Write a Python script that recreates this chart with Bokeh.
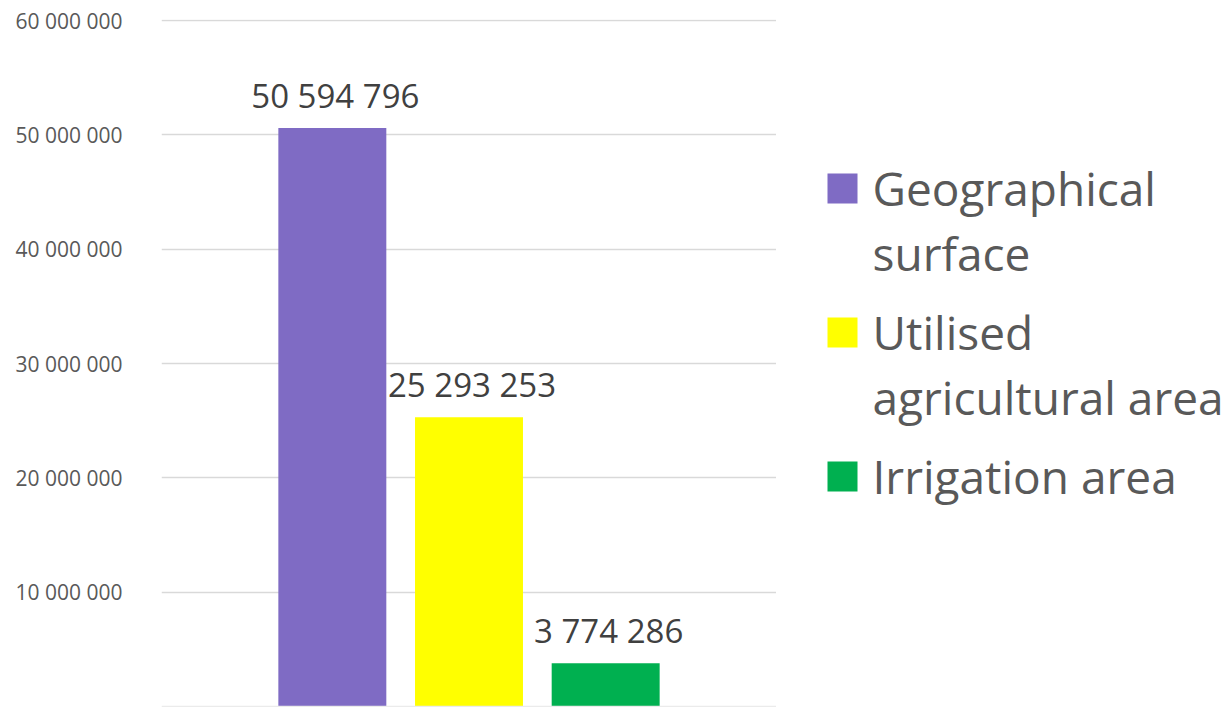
from bokeh.plotting import figure
from bokeh.layouts import row
from bokeh.models import (FactorRange, Range1d, FixedTicker, ColumnDataSource, LabelSet, Span)
from bokeh.core.properties import value
from bokeh.embed import file_html
from bokeh.resources import INLINE

categories = ["Geographical surface", "Utilised agricultural area", "Irrigation area"]
legend_labels = ["Geographical\nsurface", "Utilised\nagricultural area", "Irrigation area"]
values = [50594796, 25293253, 3774286]
colors = ["#7F6BC4", "#FFFF00", "#00B050"]
y_ticks = [10000000, 20000000, 30000000, 40000000, 50000000, 60000000]
y_tick_labels = ["10 000 000", "20 000 000", "30 000 000", "40 000 000", "50 000 000", "60 000 000"]

value_labels = ["{:,}".format(v).replace(",", " ") for v in values]

src = ColumnDataSource(dict(cat=categories, val=values, color=colors, label=value_labels))

FONT = "Open Sans"
PX = 60000000 / 686.0
TOP = 19

p = figure(width=776, height=707,
           x_range=FactorRange(*categories, range_padding=0.5),
           y_range=Range1d(-PX, 60000000 + PX),
           output_backend="svg", toolbar_location=None,
           x_axis_location=None,
           min_border_left=161, min_border_right=0,
           min_border_top=TOP, min_border_bottom=0)
p.outline_line_color = None
p.background_fill_color = "white"
p.border_fill_color = "white"

p.vbar(x="cat", top="val", width=0.79, fill_color="color", line_color=None, source=src)

p.add_layout(LabelSet(x="cat", y="val", text="label", source=src,
                      text_align="center", text_baseline="alphabetic", y_offset=20, x_offset=3,
                      text_font_size="33px", text_color="#404040", text_font=value(FONT)))

ax = p.yaxis[0]
ax.ticker = FixedTicker(ticks=y_ticks)
ax.major_label_overrides = {t: l for t, l in zip(y_ticks, y_tick_labels)}
ax.axis_line_color = None
ax.major_tick_line_color = None
ax.minor_tick_line_color = None
ax.major_tick_out = 0
ax.major_tick_in = 0
ax.minor_tick_out = 0
ax.minor_tick_in = 0
ax.major_label_standoff = 39
ax.major_label_text_font = FONT
ax.major_label_text_font_size = "21px"
ax.major_label_text_color = "#595959"

p.xgrid.visible = False
p.ygrid.ticker = FixedTicker(ticks=y_ticks)
p.ygrid.grid_line_color = "#D9D9D9"
p.ygrid.grid_line_width = 1.3
p.add_layout(Span(location=0, dimension="width", line_color="#EBEBEB", line_width=1.3))

# ---- legend panel (drawn in its own pixel-scaled figure) ----
LEG_W, LEG_H = 453, 707
FIRST_BASELINE, LINE_STEP, ENTRY_GAP = 203, 65, 79
SQ_X, SQ_SIZE, TEXT_X = 51, 30, 96
TEXT_DY = -16

sq_left, sq_right, sq_top, sq_bottom = [], [], [], []
txt_x, txt_y, txt = [], [], []
baseline = FIRST_BASELINE
for lab in legend_labels:
    lines = lab.split("\n")
    sq_left.append(SQ_X)
    sq_right.append(SQ_X + SQ_SIZE)
    sq_top.append(baseline - SQ_SIZE)
    sq_bottom.append(baseline)
    for j, ln in enumerate(lines):
        txt_x.append(TEXT_X)
        txt_y.append(baseline + j * LINE_STEP + TEXT_DY)
        txt.append(ln)
    baseline += (len(lines) - 1) * LINE_STEP + ENTRY_GAP

leg = figure(width=LEG_W, height=LEG_H, x_range=Range1d(0, LEG_W), y_range=Range1d(LEG_H, TOP),
             output_backend="svg", toolbar_location=None,
             x_axis_location=None, y_axis_location=None,
             min_border_left=0, min_border_right=0, min_border_top=TOP, min_border_bottom=0)
leg.outline_line_color = None
leg.grid.visible = False
leg.background_fill_color = "white"
leg.border_fill_color = "white"
leg.quad(left=sq_left, right=sq_right, top=sq_top, bottom=sq_bottom,
         fill_color=colors, line_color=None)
leg.text(x=txt_x, y=txt_y, text=txt, text_font=value(FONT), text_font_size="46px",
         text_color="#595959", text_baseline="alphabetic", text_align="left")

layout = row(p, leg, spacing=0)
open("out.html", "w").write(file_html(layout, INLINE))
